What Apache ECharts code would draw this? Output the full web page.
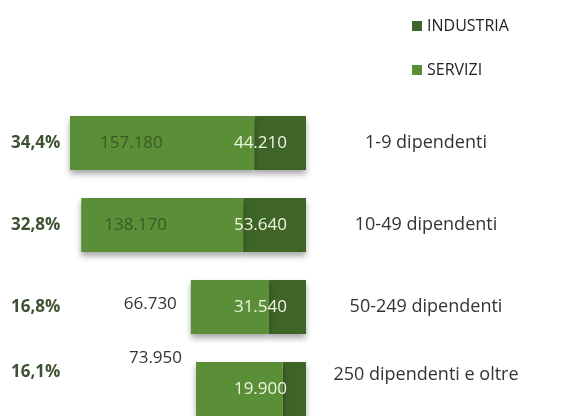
<!DOCTYPE html>
<html>
<head>
<meta charset="utf-8">
<script src="https://cdn.jsdelivr.net/npm/echarts@6/dist/echarts.min.js"></script>
<style>
  html, body { margin: 0; padding: 0; background: #fff; overflow: hidden; }
  #charts { width: 569px; height: 440px; }
</style>
</head>
<body>
<div id="charts"></div>
<script>
var categories = ['1-9 dipendenti', '10-49 dipendenti', '50-249 dipendenti', '250 dipendenti e oltre'];
var shares = ['34,4%', '32,8%', '16,8%', '16,1%'];
var industria = [44210, 53640, 31540, 19900];
var servizi = [157180, 138170, 66730, 73950];

// label placement for the SERVIZI values (inside for long bars, outside for short ones)
var serviziLabelPos = [
    { position: 'insideLeft', distance: 30, offset: [0, 0], color: '#3b5a26' },
    { position: 'insideLeft', distance: 23, offset: [0, 0], color: '#3b5a26' },
    { position: 'left', distance: 14, offset: [0, -3], color: '#333' },
    { position: 'left', distance: 14, offset: [0, -31], color: '#333' }
];

function fmt(v) {
    return String(v).replace(/\B(?=(\d{3})+(?!\d))/g, '.');
}

var myChart = echarts.init(document.getElementById('charts'));

var font = '"Open Sans", "Noto Sans", sans-serif';

var serviziData = servizi.map(function (v, i) {
    var p = serviziLabelPos[i];
    return {
        value: v,
        label: { position: p.position, distance: p.distance, offset: p.offset, color: p.color }
    };
});

var option = {
    animation: false,
    color: ['#3f6428', '#5b8f37'],
    textStyle: { fontFamily: font },
    legend: {
        orient: 'vertical',
        left: 412,
        top: 18,
        padding: 0,
        itemWidth: 10,
        itemHeight: 10,
        itemGap: 28,
        icon: 'rect',
        textStyle: { fontSize: 16, color: '#222', fontFamily: font },
        data: ['INDUSTRIA', 'SERVIZI']
    },
    grid: {
        left: 70,
        right: 263,
        top: 102,
        height: 328,
        containLabel: false
    },
    xAxis: {
        type: 'value',
        inverse: true,
        min: 0,
        max: 201390,
        show: false
    },
    yAxis: [
        {
            type: 'category',
            inverse: true,
            position: 'left',
            data: shares,
            axisLine: { show: false },
            axisTick: { show: false },
            axisLabel: {
                margin: 59,
                align: 'left',
                formatter: function (v, i) {
                    return i === 3 ? '{low|' + v + '}' : '{n|' + v + '}';
                },
                rich: {
                    n: { fontSize: 17, fontWeight: 'bold', color: '#3d5230', fontFamily: font },
                    low: { fontSize: 17, fontWeight: 'bold', color: '#3d5230', fontFamily: font, padding: [0, 0, 34, 0] }
                }
            }
        },
        {
            type: 'category',
            inverse: true,
            position: 'right',
            data: categories,
            axisLine: { show: false },
            axisTick: { show: false },
            axisLabel: {
                margin: 120,
                align: 'center',
                formatter: function (v, i) {
                    return i === 3 ? '{low|' + v + '}' : '{n|' + v + '}';
                },
                rich: {
                    n: { fontSize: 18, color: '#333', fontFamily: font },
                    low: { fontSize: 18, color: '#333', fontFamily: font, padding: [0, 0, 28, 0] }
                }
            }
        }
    ],
    series: [
        {
            name: 'INDUSTRIA',
            type: 'bar',
            stack: 'tot',
            barWidth: 54,
            data: industria,
            itemStyle: {
                shadowColor: 'rgba(0,0,0,0.35)',
                shadowBlur: 6,
                shadowOffsetY: 4
            },
            label: {
                show: true,
                position: 'insideRight',
                distance: 19,
                fontSize: 17,
                color: '#eef5e2',
                fontFamily: font,
                formatter: function (p) { return fmt(p.value); }
            }
        },
        {
            name: 'SERVIZI',
            type: 'bar',
            stack: 'tot',
            barWidth: 54,
            data: serviziData,
            itemStyle: {
                shadowColor: 'rgba(0,0,0,0.35)',
                shadowBlur: 6,
                shadowOffsetY: 4
            },
            label: {
                show: true,
                fontSize: 17,
                fontFamily: font,
                formatter: function (p) { return fmt(p.value); }
            }
        }
    ]
};

myChart.setOption(option);
</script>
</body>
</html>
